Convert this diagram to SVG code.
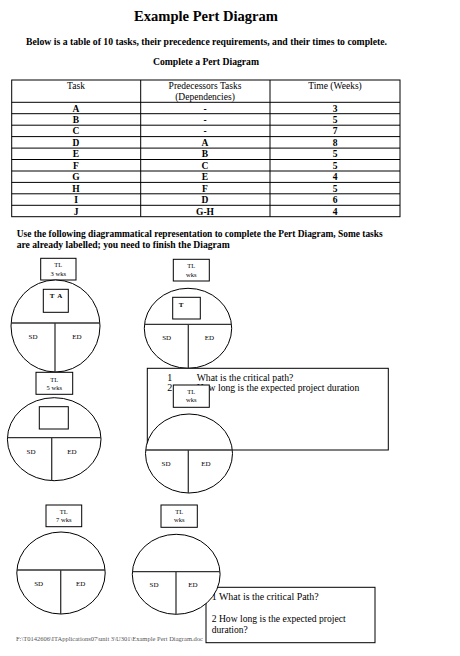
<svg xmlns="http://www.w3.org/2000/svg" width="460" height="656" viewBox="0 0 460 656" font-family="'Liberation Serif', 'Times New Roman', 'DejaVu Serif', serif">
<style>
text{font-family:'Liberation Serif','Times New Roman','DejaVu Serif',serif;fill:#000}
.b{font-weight:bold}
.c{text-anchor:middle}
.tl{font-size:6.5px;text-anchor:middle}
.cell{font-size:9.5px;font-weight:bold;text-anchor:middle}
.hd{font-size:9.5px;text-anchor:middle}
.sd{font-size:7px;text-anchor:middle}
.ln{stroke:#000;stroke-width:1;fill:none}
.box{stroke:#000;stroke-width:1;fill:#fff}
.ell{stroke:#000;stroke-width:1;fill:#fff}
.div{stroke:#333;stroke-width:1.3}
.q{font-size:10px}
</style>
<rect width="460" height="656" fill="#fff"/>

<g id="header">
<text x="206" y="21" class="b c" font-size="15.5" textLength="144" lengthAdjust="spacingAndGlyphs">Example Pert Diagram</text>
<text x="26" y="45" class="b" font-size="10" textLength="361" lengthAdjust="spacingAndGlyphs">Below is a table of 10 tasks, their precedence requirements, and their times to complete.</text>
<text x="153" y="65" class="b" font-size="10" textLength="106" lengthAdjust="spacingAndGlyphs">Complete a Pert Diagram</text>
</g>

<g id="table">
<rect x="11.7" y="80" width="388.3" height="136.7" class="ln"/>
<line x1="140.7" y1="80" x2="140.7" y2="216.7" class="ln"/>
<line x1="270" y1="80" x2="270" y2="216.7" class="ln"/>
<g class="ln">
<line x1="11.7" y1="102.3" x2="400" y2="102.3"/>
<line x1="11.7" y1="113.7" x2="400" y2="113.7"/>
<line x1="11.7" y1="125.2" x2="400" y2="125.2"/>
<line x1="11.7" y1="136.6" x2="400" y2="136.6"/>
<line x1="11.7" y1="148.1" x2="400" y2="148.1"/>
<line x1="11.7" y1="159.5" x2="400" y2="159.5"/>
<line x1="11.7" y1="171" x2="400" y2="171"/>
<line x1="11.7" y1="182.4" x2="400" y2="182.4"/>
<line x1="11.7" y1="193.8" x2="400" y2="193.8"/>
<line x1="11.7" y1="205.3" x2="400" y2="205.3"/>
</g>
<text x="76" y="88.5" class="hd">Task</text>
<text x="205" y="88.5" class="hd">Predecessors Tasks</text>
<text x="205" y="100" class="hd">(Dependencies)</text>
<text x="335" y="88.5" class="hd">Time (Weeks)</text>

<text x="76" y="111.5" class="cell">A</text><text x="205" y="111.5" class="cell">-</text><text x="335" y="111.5" class="cell">3</text>
<text x="76" y="122.9" class="cell">B</text><text x="205" y="122.9" class="cell">-</text><text x="335" y="122.9" class="cell">5</text>
<text x="76" y="134.4" class="cell">C</text><text x="205" y="134.4" class="cell">-</text><text x="335" y="134.4" class="cell">7</text>
<text x="76" y="145.8" class="cell">D</text><text x="205" y="145.8" class="cell">A</text><text x="335" y="145.8" class="cell">8</text>
<text x="76" y="157.3" class="cell">E</text><text x="205" y="157.3" class="cell">B</text><text x="335" y="157.3" class="cell">5</text>
<text x="76" y="168.7" class="cell">F</text><text x="205" y="168.7" class="cell">C</text><text x="335" y="168.7" class="cell">5</text>
<text x="76" y="180.2" class="cell">G</text><text x="205" y="180.2" class="cell">E</text><text x="335" y="180.2" class="cell">4</text>
<text x="76" y="191.6" class="cell">H</text><text x="205" y="191.6" class="cell">F</text><text x="335" y="191.6" class="cell">5</text>
<text x="76" y="203" class="cell">I</text><text x="205" y="203" class="cell">D</text><text x="335" y="203" class="cell">6</text>
<text x="76" y="214.5" class="cell">J</text><text x="205" y="214.5" class="cell">G-H</text><text x="335" y="214.5" class="cell">4</text>
</g>

<g id="instructions">
<text x="16.7" y="237" class="b" font-size="10" textLength="366" lengthAdjust="spacingAndGlyphs">Use the following diagrammatical representation to complete the Pert Diagram, Some tasks</text>
<text x="16.7" y="247.5" class="b" font-size="10" textLength="213" lengthAdjust="spacingAndGlyphs">are already labelled; you need to finish the Diagram</text>
</g>

<g id="connectors"></g>

<g id="node1">
<rect x="40.7" y="258.3" width="35.3" height="21.7" class="box"/>
<text x="58.3" y="267" class="tl">TL</text>
<text x="58.3" y="275.5" class="tl">3 wks</text>
<ellipse cx="55.5" cy="326" rx="44.5" ry="46" class="ell"/>
<line x1="11.1" y1="323" x2="99.9" y2="323" class="div"/>
<line x1="55" y1="323" x2="55" y2="372" class="div"/>
<rect x="43.3" y="289.3" width="25" height="23" class="box"/>
<text x="56" y="298" class="sd b" xml:space="preserve">T  A</text>
<text x="33" y="339" class="sd">SD</text>
<text x="77" y="339" class="sd">ED</text>
</g>

<g id="node2">
<rect x="173.3" y="259.3" width="36" height="21.7" class="box"/>
<text x="191.3" y="268" class="tl">TL</text>
<text x="191.3" y="276.5" class="tl">wks</text>
<ellipse cx="188" cy="328.3" rx="43.7" ry="40" class="ell"/>
<line x1="144.5" y1="324.3" x2="231.5" y2="324.3" class="div"/>
<line x1="188.3" y1="324.3" x2="188.3" y2="368.3" class="div"/>
<rect x="172.7" y="297.3" width="27.6" height="21.7" class="box"/>
<text x="181" y="307" class="sd b">T</text>
<text x="166.7" y="340" class="sd">SD</text>
<text x="209.3" y="340" class="sd">ED</text>
</g>

<g id="questions1">
<rect x="147.3" y="368.3" width="241" height="81.7" class="box"/>
<text x="167.3" y="381" class="q">1</text>
<text x="196.7" y="381" class="q" textLength="96.6" lengthAdjust="spacingAndGlyphs">What is the critical path?</text>
<text x="167.3" y="391.3" class="q">2</text>
<text x="196.7" y="391.3" class="q" textLength="162.6" lengthAdjust="spacingAndGlyphs">How long is the expected project duration</text>
</g>

<g id="node3">
<rect x="36" y="372.3" width="36.7" height="22" class="box"/>
<text x="54.3" y="381.5" class="tl">TL</text>
<text x="54.3" y="390" class="tl">5 wks</text>
<ellipse cx="54.2" cy="439.2" rx="46.8" ry="41.5" class="ell"/>
<line x1="7.4" y1="437.7" x2="101" y2="437.7" class="div"/>
<line x1="51.7" y1="437.7" x2="51.7" y2="480.7" class="div"/>
<rect x="39.3" y="406.7" width="29" height="22.3" class="box"/>
<text x="31" y="454" class="sd">SD</text>
<text x="72" y="454" class="sd">ED</text>
</g>

<g id="node4">
<rect x="173.3" y="385" width="36" height="22.3" class="box"/>
<text x="191.3" y="394" class="tl">TL</text>
<text x="191.3" y="402.3" class="tl">wks</text>
<ellipse cx="189" cy="453.5" rx="43.5" ry="39.5" class="ell"/>
<line x1="145.6" y1="450" x2="232.4" y2="450" class="div"/>
<line x1="188.3" y1="450" x2="188.3" y2="493" class="div"/>
<text x="166" y="466" class="sd">SD</text>
<text x="206" y="466" class="sd">ED</text>
</g>

<g id="node5">
<rect x="46" y="505" width="35.7" height="21.7" class="box"/>
<text x="63.8" y="513.5" class="tl">TL</text>
<text x="63.8" y="522" class="tl">7 wks</text>
<ellipse cx="61" cy="573" rx="44.2" ry="41" class="ell"/>
<line x1="16.9" y1="570" x2="105.1" y2="570" class="div"/>
<line x1="60.7" y1="570" x2="60.7" y2="614" class="div"/>
<text x="38.7" y="586" class="sd">SD</text>
<text x="80.7" y="586" class="sd">ED</text>
</g>

<g id="questions2">
<rect x="206" y="587.3" width="169" height="55.4" class="box"/>
<text x="211.7" y="600" font-size="10.5" textLength="107" lengthAdjust="spacingAndGlyphs">1 What is the critical Path?</text>
<text x="211.7" y="621.7" font-size="10.5" textLength="134" lengthAdjust="spacingAndGlyphs">2 How long is the expected project</text>
<text x="211.7" y="633.3" font-size="10.5" textLength="36" lengthAdjust="spacingAndGlyphs">duration?</text>
</g>

<g id="node6">
<rect x="161" y="505" width="36.3" height="22.3" class="box"/>
<text x="179.2" y="513.5" class="tl">TL</text>
<text x="179.2" y="522" class="tl">wks</text>
<ellipse cx="176.2" cy="574.3" rx="43.9" ry="40" class="ell"/>
<line x1="132.4" y1="571.7" x2="220" y2="571.7" class="div"/>
<line x1="176" y1="571.7" x2="176" y2="614.3" class="div"/>
<text x="154" y="586.5" class="sd">SD</text>
<text x="193" y="586.5" class="sd">ED</text>
</g>

<g id="footer">
<text x="16" y="640.7" font-size="5.5" style="fill:#555" textLength="187" lengthAdjust="spacingAndGlyphs">F:\T0142606\ITApplications07\unit 3\U301\Example Pert Diagram.doc</text>
</g>
</svg>
